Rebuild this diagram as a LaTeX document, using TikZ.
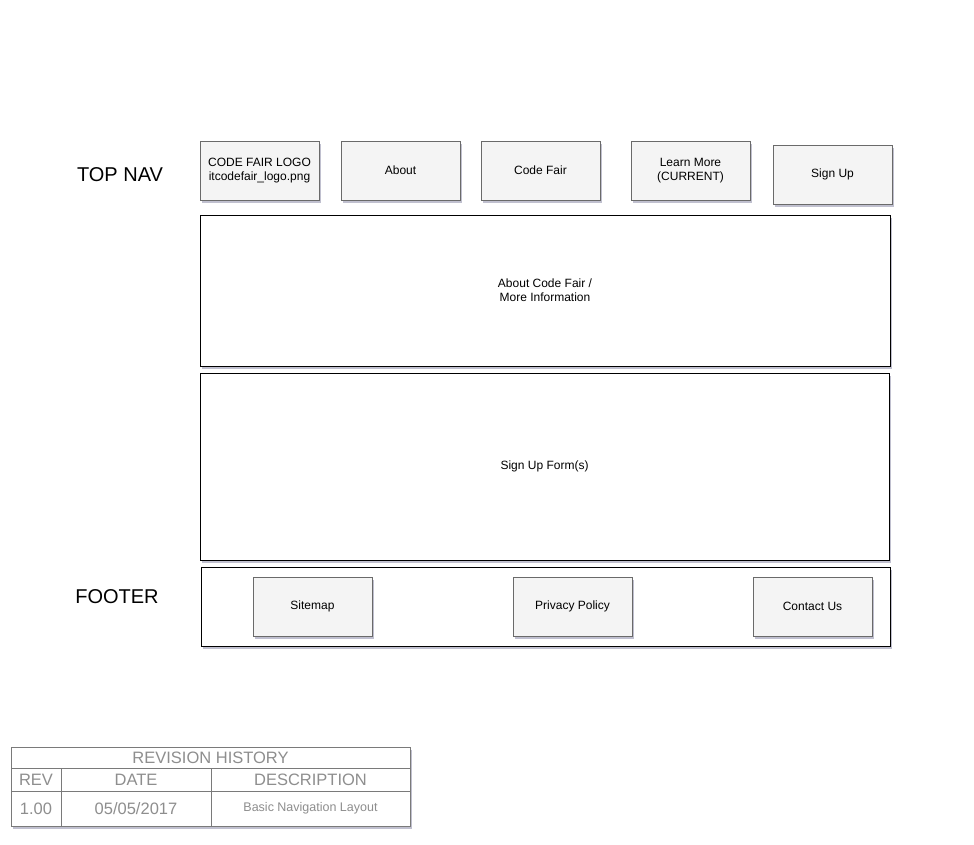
\documentclass[tikz,border=0pt]{standalone}
\usepackage{fontspec}
\setmainfont{Liberation Sans}
\usetikzlibrary{positioning,shadows}
\definecolor{boxfill}{HTML}{F4F4F4}
\definecolor{boxline}{HTML}{6A6A6A}
\definecolor{shadowc}{HTML}{8C8CA8}
\definecolor{tableline}{HTML}{7A7A7A}
\definecolor{tabletext}{HTML}{8E8E8E}

\begin{document}
\begin{tikzpicture}[x=1pt, y=-1pt]
        % Style definitions
        \tikzset{
            shade/.style={drop shadow={shadow xshift=2pt, shadow yshift=-2.5pt, fill=shadowc, opacity=0.55}},
            navbox/.style={draw=boxline, fill=boxfill, rectangle, line width=0.8pt, minimum width=119pt, minimum height=59pt, inner sep=0pt, outer sep=0pt, align=center, font=\fontsize{12}{14}\selectfont, shade},
            area/.style={draw=black, fill=white, rectangle, line width=0.9pt, inner sep=0pt, outer sep=0pt, align=center, font=\fontsize{12}{14}\selectfont, shade},
            sidelabel/.style={font=\fontsize{20}{22}\selectfont},
            cell/.style={draw=tableline, fill=white, rectangle, line width=0.8pt, inner sep=0pt, outer sep=0pt, anchor=north west, text=tabletext, font=\fontsize{16.5}{18}\selectfont, shade}
        }

        % Page frame
        \useasboundingbox (0,0) rectangle (974,844);

        % Side labels
        \node [sidelabel] (topnav) at (120,175) {TOP NAV};
        \node [sidelabel] (footer) at (117,597) {FOOTER};

        % Top navigation
        \node [navbox, anchor=north west] (logo) at (200,141) {CODE FAIR LOGO\\itcodefair\_logo.png};
        \node [navbox, right=22pt of logo] (about) {About};
        \node [navbox, right=21pt of about] (codefair) {Code Fair};
        \node [navbox, right=31pt of codefair] (learnmore) {Learn More\\(CURRENT)};
        \node [navbox, right=23pt of learnmore, yshift=-4pt] (signup) {Sign Up};

        % Content areas
        \node [area, anchor=north west, minimum width=690pt, minimum height=151pt] (info) at (200,215) {About Code Fair /\\More Information};
        \node [area, anchor=north west, minimum width=689pt, minimum height=187pt] (form) at (200,373) {Sign Up Form(s)};

        % Footer
        \node [area, anchor=north west, minimum width=689pt, minimum height=79pt] (footbar) at (201,567) {};
        \node [navbox, anchor=north west] (sitemap) at (253,577) {Sitemap};
        \node [navbox, anchor=north west] (privacy) at (513,577) {Privacy Policy};
        \node [navbox, anchor=north west] (contact) at (753,577) {Contact Us};

        % Revision history table
        \node [cell, minimum width=399pt, minimum height=21pt] (revtitle) at (11,747) {REVISION HISTORY};
        \node [cell, minimum width=50pt, minimum height=23pt] (revhead) at (revtitle.south west) {REV};
        \node [cell, minimum width=150pt, minimum height=23pt] (datehead) at (revhead.north east) {DATE};
        \node [cell, minimum width=199pt, minimum height=23pt] (deschead) at (datehead.north east) {DESCRIPTION};
        \node [cell, minimum width=50pt, minimum height=35pt] (revval) at (revhead.south west) {1.00};
        \node [cell, minimum width=150pt, minimum height=35pt] (dateval) at (revval.north east) {05/05/2017};
        \node [cell, minimum width=199pt, minimum height=35pt, font=\fontsize{12.5}{14}\selectfont] (descval) at (dateval.north east) {Basic Navigation Layout};
    \end{tikzpicture}
\end{document}
